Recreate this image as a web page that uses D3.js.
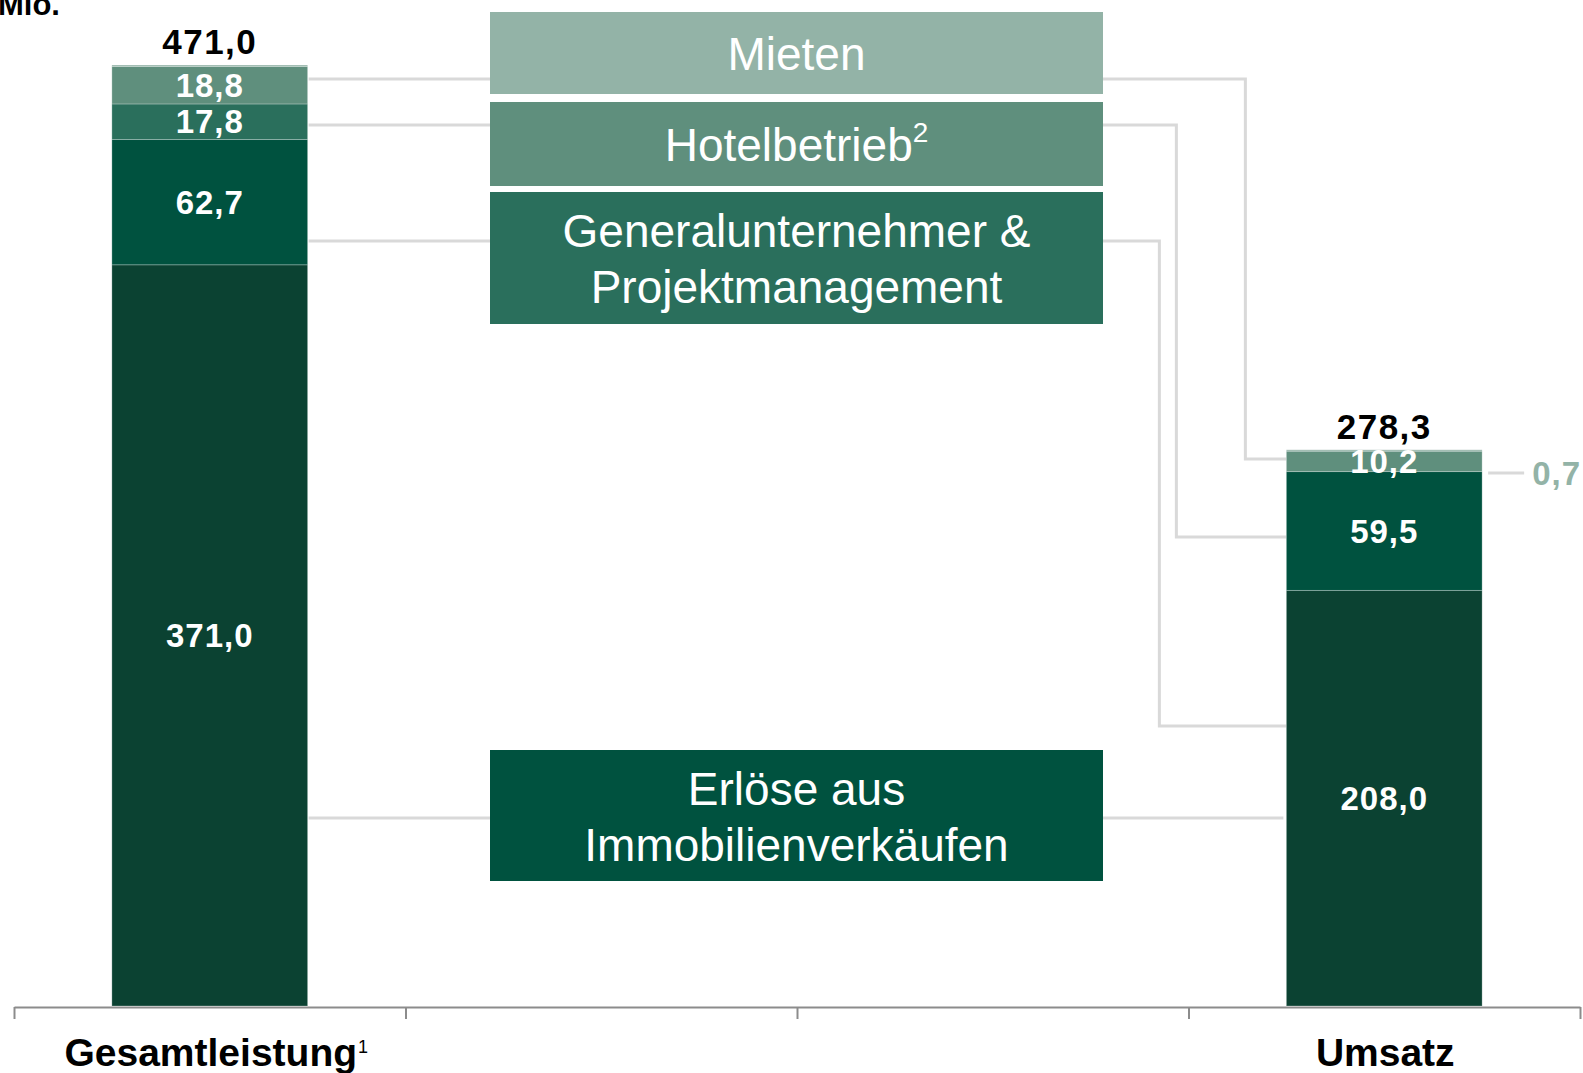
<!DOCTYPE html>
<html>
<head>
<meta charset="utf-8">
<script src="https://cdn.jsdelivr.net/npm/d3@7"></script>
<style>
  html, body { margin: 0; padding: 0; background: #fff; }
  svg { display: block; font-family: "Liberation Sans", Arial, sans-serif; }
</style>
</head>
<body>
<div id="chart"></div>
<script>
// Axis slots: the two bars sit in the outer slots, the middle ones carry the legend boxes
const slots = ['Gesamtleistung', 'leer1', 'leer2', 'Umsatz'];
const barCategories = ['Gesamtleistung', 'Umsatz'];
const categorySup = ['1', ''];

// Stacked layers, bottom to top (EUR Mio.)
const layerKeys = ['basis', 'erloese', 'gu', 'hotel', 'mieten'];
const layerGesamt = [371.0, 62.7, 17.8, 18.8, 0.7];
const layerUmsatz = [208.0, 59.5, 0, 10.2, 0.7];
const totals = [471.0, 278.3];

// Legend boxes in the middle
const boxLabels = [['Mieten'], ['Hotelbetrieb'], ['Generalunternehmer &', 'Projektmanagement'], ['Erlöse aus', 'Immobilienverkäufen']];
const boxSup = ['', '2', '', ''];

// Connector anchors in value units: left bar -> box, box -> right bar
const connectorFrom = [464.0, 441.0, 382.9, 94.1];
const connectorTo = [273.8, 234.7, 140.1, 94.1];
const smallValue = 0.7;
const smallValueAt = 266.8;

const svgWidth = 1583;
const svgHeight = 1073;
const axisLeft = 14, axisRight = 1580;
const baseline = 1006;

const colors = {
    basis: '#0b4232',
    erloese: '#00523f',
    gu: '#2a6f5c',
    hotel: '#5f8f7d',
    mieten: '#93b3a7'
};
const boxColors = ['#93b3a7', '#5f8f7d', '#2a6f5c', '#00523f'];
const lineColor = '#d9d9d9';

const locale = d3.formatLocale({decimal: ',', thousands: '.', grouping: [3], currency: ['', '']});
const fmt = locale.format('.1f');

const svg = d3.select('#chart').append('svg')
    .attr('width', svgWidth)
    .attr('height', svgHeight);

const x = d3.scaleBand().domain(slots).range([axisLeft, axisRight]).padding(0);
const y = d3.scaleLinear().domain([0, 471]).range([baseline, 65]);

// Build table for stack
const rows = barCategories.map((c, i) => {
    const vals = i === 0 ? layerGesamt : layerUmsatz;
    const row = {cat: c};
    layerKeys.forEach((k, j) => { row[k] = vals[j]; });
    return row;
});
const series = d3.stack().keys(layerKeys)(rows);

const barX = c => x(c) + x.bandwidth() / 4;
const barW = x.bandwidth() / 2;

// Connectors (drawn first, under everything)
const boxX0 = 490, boxX1 = 1103;
const elbowOffsets = [41, 110, 127, null];
const connectors = svg.append('g').attr('class', 'connectors')
    .attr('fill', 'none').attr('stroke', lineColor).attr('stroke-width', 3);
connectorFrom.forEach((v, i) => {
    const yl = y(v);
    const xl = barX('Gesamtleistung') + barW + 1;
    const xr = barX('Umsatz');
    connectors.append('path').attr('d', `M${xl},${yl}H${boxX0}`);
    const yr = y(connectorTo[i]);
    if (elbowOffsets[i] === null) {
        connectors.append('path').attr('d', `M${boxX1},${yl}H${xr - 3}`);
    } else {
        const xe = xr - elbowOffsets[i];
        connectors.append('path').attr('d', `M${boxX1},${yl}H${xe}V${yr}H${xr}`);
    }
});

// Bars
const layers = svg.append('g').attr('class', 'bars')
    .selectAll('g').data(series).enter().append('g')
    .attr('fill', d => colors[d.key]);
layers.selectAll('rect')
    .data(d => d.filter(s => s[1] - s[0] > 0))
    .enter().append('rect')
    .attr('x', d => barX(d.data.cat))
    .attr('width', barW)
    .attr('y', d => y(d[1]))
    .attr('height', d => y(d[0]) - y(d[1]))
    .attr('stroke', 'rgba(255,255,255,0.25)')
    .attr('stroke-width', 1);

// Segment labels
const segLabels = svg.append('g').attr('class', 'seg-labels');
series.forEach(s => {
    s.forEach(d => {
        const v = d[1] - d[0];
        if (v < 5) return;
        segLabels.append('text')
            .attr('x', barX(d.data.cat) + barW / 2)
            .attr('y', (y(d[0]) + y(d[1])) / 2)
            .attr('dy', '0.35em')
            .attr('text-anchor', 'middle')
            .attr('fill', '#fff')
            .attr('font-weight', 'bold')
            .attr('font-size', 33)
            .attr('letter-spacing', 1)
            .text(fmt(v));
    });
});

// Totals above bars
barCategories.forEach((c, i) => {
    const top = d3.sum(layerKeys, k => rows[i][k]);
    svg.append('text')
        .attr('x', barX(c) + barW / 2)
        .attr('y', y(top) - 11)
        .attr('text-anchor', 'middle')
        .attr('font-weight', 'bold')
        .attr('font-size', 35)
        .attr('letter-spacing', 1.5)
        .attr('fill', '#000')
        .text(fmt(totals[i]));
});

// Small value outside the right bar
const rightEdge = barX('Umsatz') + barW;
svg.append('path')
    .attr('d', `M${rightEdge + 6},${y(smallValueAt)}H${rightEdge + 42}`)
    .attr('stroke', lineColor).attr('stroke-width', 3);
svg.append('text')
    .attr('x', rightEdge + 50)
    .attr('y', y(smallValueAt))
    .attr('dy', '0.35em')
    .attr('font-weight', 'bold')
    .attr('font-size', 33)
    .attr('letter-spacing', 1)
    .attr('fill', colors.mieten)
    .text(fmt(smallValue));

// Legend boxes
const boxRects = [[12, 94], [102, 186], [192, 324], [750, 881]];
boxLabels.forEach((lines, i) => {
    const [y0, y1] = boxRects[i];
    svg.append('rect')
        .attr('x', boxX0).attr('y', y0)
        .attr('width', boxX1 - boxX0).attr('height', y1 - y0)
        .attr('fill', boxColors[i]);
    const cy = (y0 + y1) / 2 + 1;
    lines.forEach((ln, j) => {
        const t = svg.append('text')
            .attr('x', (boxX0 + boxX1) / 2)
            .attr('y', cy + (j - (lines.length - 1) / 2) * 56)
            .attr('dy', '0.35em')
            .attr('text-anchor', 'middle')
            .attr('fill', '#fff')
            .attr('font-size', 46);
        t.append('tspan').text(ln);
        if (boxSup[i] && j === lines.length - 1) {
            t.append('tspan').attr('font-size', 28).attr('dy', '-0.7em').text(boxSup[i]);
        }
    });
});

// X axis with ticks at slot boundaries
const edge = d3.scaleLinear().domain([0, slots.length]).range([axisLeft, axisRight]);
const axisG = svg.append('g')
    .attr('transform', `translate(0,${baseline + 1})`)
    .call(d3.axisBottom(edge)
        .tickValues(d3.range(slots.length + 1))
        .tickSize(12)
        .tickSizeOuter(0)
        .tickFormat(''));
axisG.select('.domain').attr('stroke', '#8c8c8c').attr('stroke-width', 2);
axisG.selectAll('.tick line').attr('stroke', '#8c8c8c').attr('stroke-width', 2);

// Category labels
barCategories.forEach((c, i) => {
    const cx = x(c) + x.bandwidth() / 2;
    const t = svg.append('text')
        .attr('x', cx + 1)
        .attr('y', 1066)
        .attr('text-anchor', 'middle')
        .attr('font-weight', 'bold')
        .attr('font-size', 39)
        .attr('fill', '#000')
        .text(c);
    if (categorySup[i]) {
        const len = t.node().getComputedTextLength();
        svg.append('text')
            .attr('x', cx + 1 + len / 2 + 1)
            .attr('y', 1053)
            .attr('font-size', 18)
            .attr('fill', '#000')
            .text(categorySup[i]);
    }
});

// Unit label, cut at the top edge as in the source
svg.append('text')
    .attr('x', -2)
    .attr('y', 15)
    .attr('font-weight', 'bold')
    .attr('font-size', 31)
    .attr('fill', '#000')
    .text('Mio.');
</script>
</body>
</html>
